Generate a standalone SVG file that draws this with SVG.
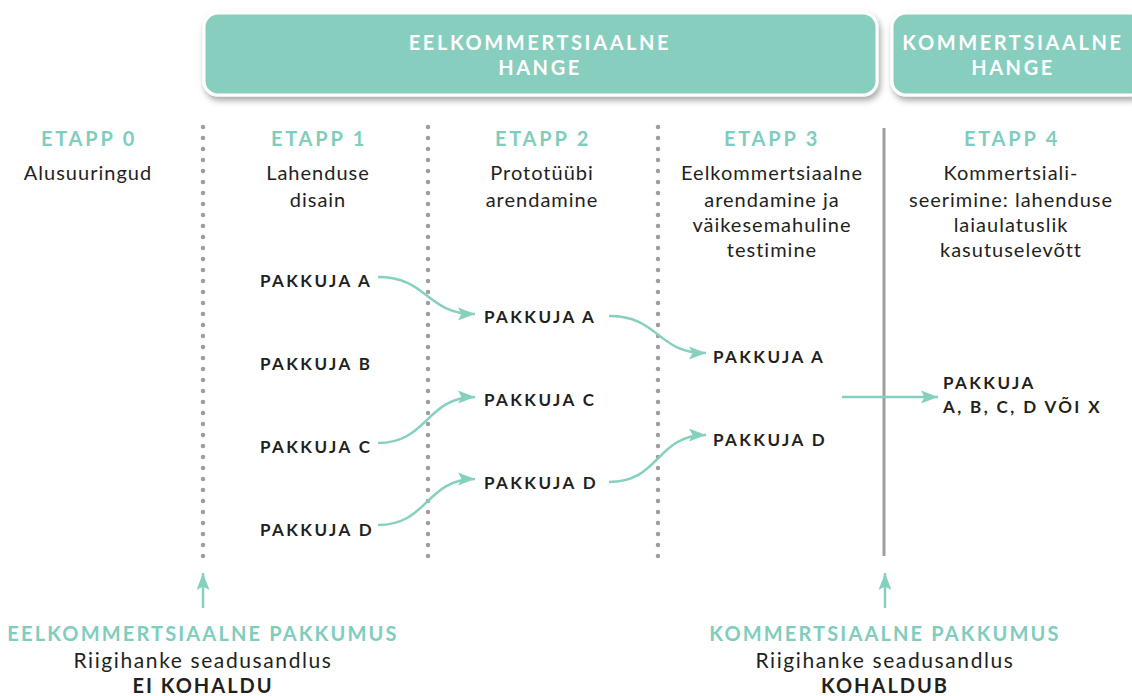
<svg xmlns="http://www.w3.org/2000/svg" width="1132" height="696" viewBox="0 0 1132 696">
<style>
  text { font-family: Lato, "Open Sans", sans-serif; }
  .hdr { font-weight: 700; font-size: 20px; fill: #ffffff; text-anchor: middle; letter-spacing: 2.6px; }
  .etapp { font-weight: 700; font-size: 20px; fill: #7fcdbd; text-anchor: middle; letter-spacing: 2.8px; }
  .desc { font-size: 20px; fill: #231f20; text-anchor: middle; letter-spacing: 1px; }
  .pk { font-weight: 700; font-size: 17px; fill: #231f20; letter-spacing: 2.4px; }
  .bt { font-weight: 700; font-size: 20px; fill: #7fcdbd; text-anchor: middle; letter-spacing: 2.15px; }
  .bd { font-size: 21px; fill: #231f20; text-anchor: middle; letter-spacing: 1.6px; }
  .bb { font-weight: 700; font-size: 20px; fill: #231f20; text-anchor: middle; letter-spacing: 2px; }
  .box { fill: #87cebf; stroke: #ffffff; stroke-width: 3; filter: url(#shadow); }
  .dots { stroke: #9d9da3; stroke-width: 4.5; stroke-linecap: round; stroke-dasharray: 0 11; fill: none; }
  .solid { stroke: #9d9da3; stroke-width: 3; fill: none; }
  .conn { stroke: #85d0bf; stroke-width: 2.5; fill: none; marker-end: url(#arr); }
</style>
<defs>
  <filter id="shadow" x="-5%" y="-20%" width="110%" height="150%">
    <feDropShadow dx="2" dy="4" stdDeviation="3" flood-color="#000" flood-opacity="0.35"/>
  </filter>
  <marker id="arr" markerUnits="userSpaceOnUse" markerWidth="18" markerHeight="14" refX="17" refY="7" orient="auto">
    <path d="M0,0.5 L17,7 L0,13.5 L3.5,7 Z" fill="#85d0bf"/>
  </marker>
</defs>

<g id="box-eelkommertsiaalne">
  <rect class="box" x="204" y="13" width="673" height="82" rx="14"/>
  <text class="hdr" x="540" y="50">EELKOMMERTSIAALNE</text>
  <text class="hdr" x="540" y="75">HANGE</text>
</g>
<g id="box-kommertsiaalne">
  <rect class="box" x="892" y="13" width="252" height="82" rx="14"/>
  <text class="hdr" x="1013" y="50">KOMMERTSIAALNE</text>
  <text class="hdr" x="1013" y="75">HANGE</text>
</g>

<g id="dividers">
  <line class="dots" x1="203" y1="127" x2="203" y2="558"/>
  <line class="dots" x1="428" y1="127" x2="428" y2="558"/>
  <line class="dots" x1="658" y1="127" x2="658" y2="558"/>
  <line class="solid" x1="884" y1="128" x2="884" y2="556"/>
</g>

<g id="etapp0">
  <text class="etapp" x="89" y="146">ETAPP 0</text>
  <text class="desc" x="88" y="180">Alusuuringud</text>
</g>
<g id="etapp1">
  <text class="etapp" x="319" y="146">ETAPP 1</text>
  <text class="desc" x="318" y="180">Lahenduse</text>
  <text class="desc" x="318" y="207">disain</text>
</g>
<g id="etapp2">
  <text class="etapp" x="543" y="146">ETAPP 2</text>
  <text class="desc" x="542" y="180">Prototüübi</text>
  <text class="desc" x="542" y="207">arendamine</text>
</g>
<g id="etapp3">
  <text class="etapp" x="772" y="146">ETAPP 3</text>
  <text class="desc" x="772" y="180">Eelkommertsiaalne</text>
  <text class="desc" x="772" y="207">arendamine ja</text>
  <text class="desc" x="772" y="232">väikesemahuline</text>
  <text class="desc" x="772" y="257">testimine</text>
</g>
<g id="etapp4">
  <text class="etapp" x="1012" y="146">ETAPP 4</text>
  <text class="desc" x="1011" y="180">Kommertsiali-</text>
  <text class="desc" x="1011" y="207">seerimine: lahenduse</text>
  <text class="desc" x="1011" y="232">laiaulatuslik</text>
  <text class="desc" x="1011" y="257">kasutuselevõtt</text>
</g>

<g id="s1-a"><text class="pk" x="260" y="287">PAKKUJA A</text></g>
<g id="s1-b"><text class="pk" x="260" y="370">PAKKUJA B</text></g>
<g id="s1-c"><text class="pk" x="260" y="453">PAKKUJA C</text></g>
<g id="s1-d"><text class="pk" x="260" y="536">PAKKUJA D</text></g>
<g id="s2-a"><text class="pk" x="484" y="323">PAKKUJA A</text></g>
<g id="s2-c"><text class="pk" x="484" y="406">PAKKUJA C</text></g>
<g id="s2-d"><text class="pk" x="484" y="489">PAKKUJA D</text></g>
<g id="s3-a"><text class="pk" x="713" y="363">PAKKUJA A</text></g>
<g id="s3-d"><text class="pk" x="713" y="446">PAKKUJA D</text></g>
<g id="s4">
  <text class="pk" x="943" y="389">PAKKUJA</text>
  <text class="pk" x="943" y="413">A, B, C, D VÕI X</text>
</g>

<g id="connectors">
  <path class="conn" d="M378,277 C428,277 426,314 475,314"/>
  <path class="conn" d="M378,443 C428,443 426,397 475,397"/>
  <path class="conn" d="M378,525 C428,525 426,479 475,479"/>
  <path class="conn" d="M609,316 C660,316 656,353 706,353"/>
  <path class="conn" d="M609,482 C660,482 656,435 706,435"/>
  <path class="conn" d="M842,397 L938,397"/>
  <path class="conn" d="M203,608 L203,573"/>
  <path class="conn" d="M885,608 L885,573"/>
</g>

<g id="bottom-left">
  <text class="bt" x="203" y="641">EELKOMMERTSIAALNE PAKKUMUS</text>
  <text class="bd" x="203" y="668">Riigihanke seadusandlus</text>
  <text class="bb" x="203" y="693">EI KOHALDU</text>
</g>
<g id="bottom-right">
  <text class="bt" x="885" y="641">KOMMERTSIAALNE PAKKUMUS</text>
  <text class="bd" x="885" y="668">Riigihanke seadusandlus</text>
  <text class="bb" x="885" y="693">KOHALDUB</text>
</g>
</svg>
